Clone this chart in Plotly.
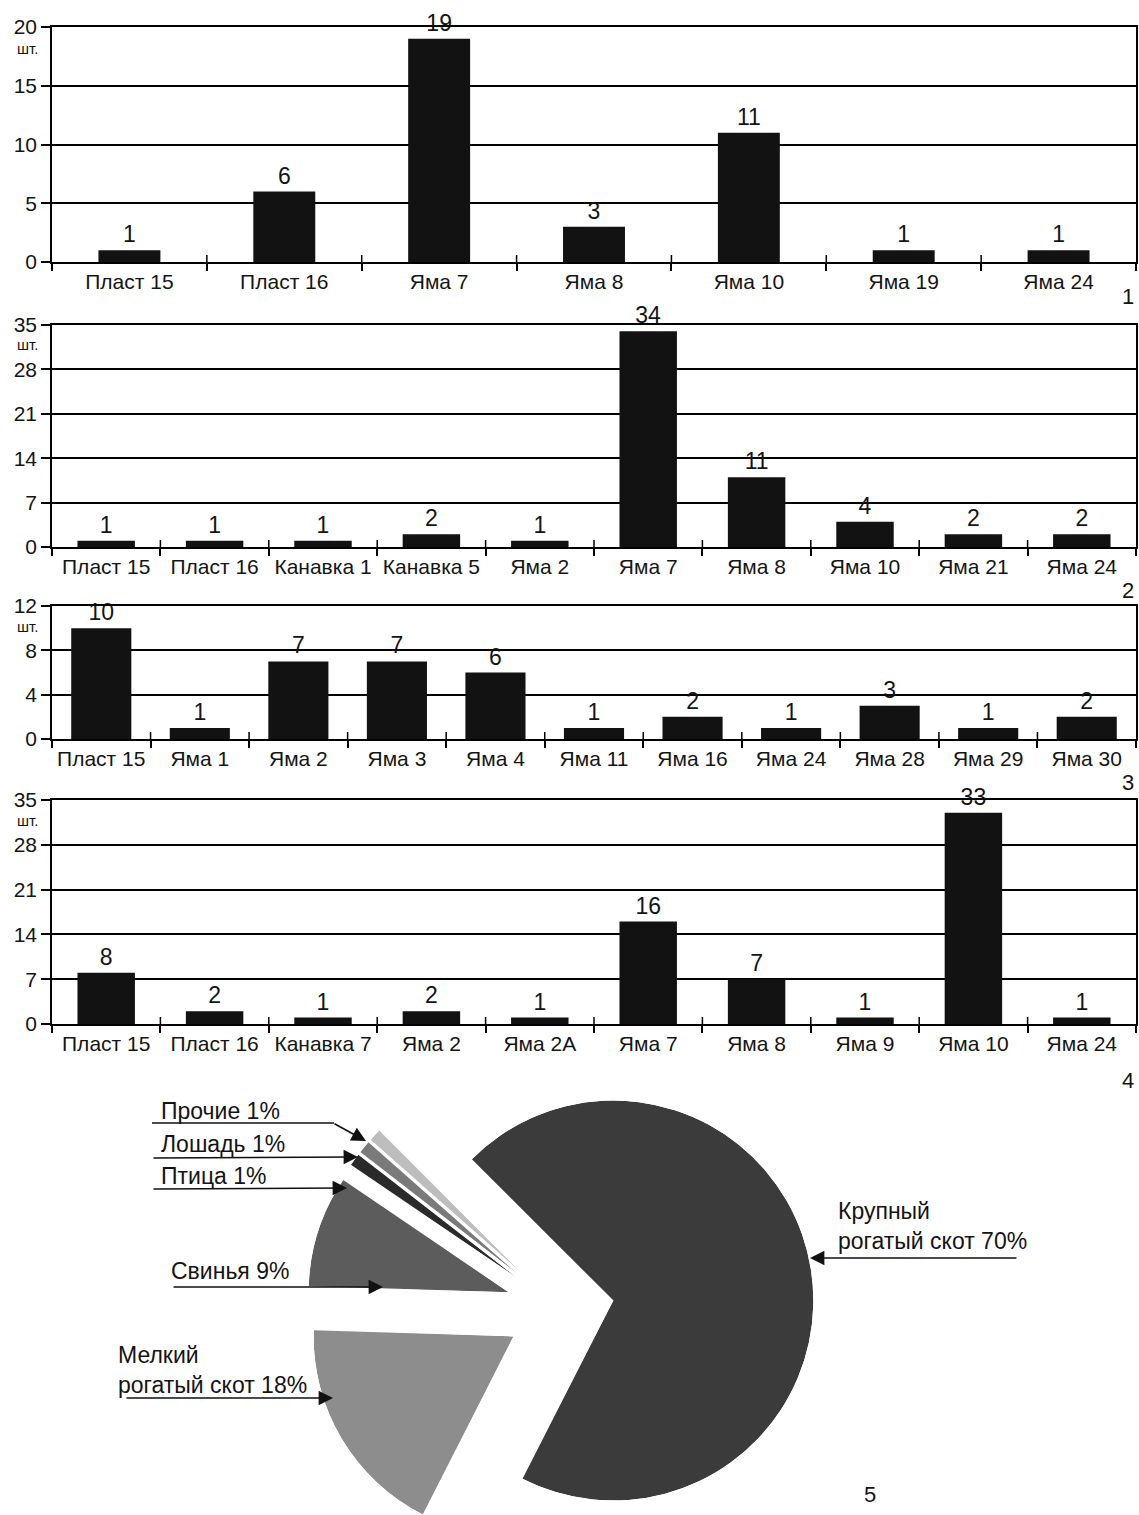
import math
import plotly.graph_objects as go

W, H = 1139, 1515

# ---------------- data ----------------
cats1 = ["Пласт 15", "Пласт 16", "Яма 7", "Яма 8", "Яма 10", "Яма 19", "Яма 24"]
vals1 = [1, 6, 19, 3, 11, 1, 1]

cats2 = ["Пласт 15", "Пласт 16", "Канавка 1", "Канавка 5", "Яма 2", "Яма 7",
         "Яма 8", "Яма 10", "Яма 21", "Яма 24"]
vals2 = [1, 1, 1, 2, 1, 34, 11, 4, 2, 2]

cats3 = ["Пласт 15", "Яма 1", "Яма 2", "Яма 3", "Яма 4", "Яма 11", "Яма 16",
         "Яма 24", "Яма 28", "Яма 29", "Яма 30"]
vals3 = [10, 1, 7, 7, 6, 1, 2, 1, 3, 1, 2]

cats4 = ["Пласт 15", "Пласт 16", "Канавка 7", "Яма 2", "Яма 2А", "Яма 7",
         "Яма 8", "Яма 9", "Яма 10", "Яма 24"]
vals4 = [8, 2, 1, 2, 1, 16, 7, 1, 33, 1]

pie_labels = ["Крупный<br>рогатый скот 70%", "Мелкий<br>рогатый скот 18%",
              "Свинья 9%", "Птица 1%", "Лошадь 1%", "Прочие 1%"]
pie_shares = [70, 18, 9, 1, 1, 1]

# ---------------- styles ----------------
FONT = "Liberation Sans, Arial, sans-serif"
TXT = "#141414"
BAR = "#121212"
pie_colors = ["#3b3b3b", "#8d8d8d", "#5c5c5c", "#2a2a2a", "#7a7a7a", "#bdbdbd"]


def fx(x):
    return x / W


def fy(y):
    return 1 - y / H


fig = go.Figure()

panels = [
    dict(cats=cats1, vals=vals1, top=27, bottom=262, rng=[0, 20], dt=5, w=0.40, num="1", numy=297, unit_y=48),
    dict(cats=cats2, vals=vals2, top=325, bottom=547, rng=[0, 35], dt=7, w=0.53, num="2", numy=590, unit_y=345),
    dict(cats=cats3, vals=vals3, top=606, bottom=739, rng=[0, 12], dt=4, w=0.61, num="3", numy=782, unit_y=627),
    dict(cats=cats4, vals=vals4, top=800, bottom=1024, rng=[0, 35], dt=7, w=0.53, num="4", numy=1080, unit_y=820),
]

annotations = []
shapes = []
layout_axes = {}

for i, p in enumerate(panels, start=1):
    xa = "x" if i == 1 else f"x{i}"
    ya = "y" if i == 1 else f"y{i}"
    fig.add_trace(go.Bar(
        x=p["cats"], y=p["vals"], xaxis=xa, yaxis=ya,
        marker=dict(color=BAR, line=dict(width=0)),
        width=p["w"],
        text=[str(v) for v in p["vals"]], textposition="outside",
        textfont=dict(size=23, color=TXT, family=FONT),
        constraintext="none", cliponaxis=False, showlegend=False,
        hoverinfo="x+y",
    ))
    xkey = "xaxis" if i == 1 else f"xaxis{i}"
    ykey = "yaxis" if i == 1 else f"yaxis{i}"
    layout_axes[xkey] = dict(
        domain=[fx(52), fx(1136)], anchor=ya, type="category",
        categoryorder="array", categoryarray=p["cats"],
        range=[-0.5, len(p["cats"]) - 0.5],
        showline=True, linecolor="black", linewidth=1.5, mirror=True,
        ticks="outside", tickson="boundaries", ticklen=7, tickwidth=1.5, tickcolor="black",
        showgrid=False, zeroline=False,
        tickfont=dict(size=21, color=TXT, family=FONT), automargin=False, fixedrange=True,
    )
    layout_axes[ykey] = dict(
        domain=[fy(p["bottom"]), fy(p["top"])], anchor=xa,
        range=p["rng"], dtick=p["dt"], tick0=0,
        showline=True, linecolor="black", linewidth=1.5, mirror=True,
        ticks="outside", ticklen=9, tickwidth=1.5, tickcolor="black",
        showgrid=True, gridcolor="black", gridwidth=1.5, zeroline=False,
        tickfont=dict(size=21, color=TXT, family=FONT), automargin=False, fixedrange=True,
    )
    # upper half of the crossing category-boundary ticks
    for k in range(1, len(p["cats"])):
        shapes.append(dict(type="line", xref=xa, yref=ya, x0=k - 0.5, x1=k - 0.5,
                           ysizemode="pixel", yanchor=0, y0=0, y1=7,
                           line=dict(color="black", width=1.5)))
    annotations.append(dict(
        text="шт.", x=fx(27), y=fy(p["unit_y"]), xref="paper", yref="paper",
        showarrow=False, font=dict(size=15, color=TXT, family=FONT),
        xanchor="center", yanchor="middle"))
    annotations.append(dict(
        text=p["num"], x=fx(1128), y=fy(p["numy"]), xref="paper", yref="paper",
        showarrow=False, font=dict(size=22, color=TXT, family=FONT),
        xanchor="center", yanchor="middle"))


# ---------------- exploded pie via sector-limited polar subplots ----------------
def sector_bbox(s0, s1):
    arc = s1 - s0
    a0 = s0 % 360
    a1 = a0 + arc
    ax0, ay0 = math.cos(math.radians(a0)), math.sin(math.radians(a0))
    ax1, ay1 = math.cos(math.radians(a1)), math.sin(math.radians(a1))
    if (a0 <= 90 and a1 >= 90) or (a0 > 90 and a1 >= 450):
        y1 = 1
    elif ay0 <= 0 and ay1 <= 0:
        y1 = 0
    else:
        y1 = max(ay0, ay1)
    if (a0 <= 180 and a1 >= 180) or (a0 > 180 and a1 >= 540):
        x0 = -1
    elif ax0 >= 0 and ax1 >= 0:
        x0 = 0
    else:
        x0 = min(ax0, ax1)
    if (a0 <= 270 and a1 >= 270) or (a0 > 270 and a1 >= 630):
        y0 = -1
    elif ay0 >= 0 and ay1 >= 0:
        y0 = 0
    else:
        y0 = min(ay0, ay1)
    if a1 >= 360:
        x1 = 1
    elif ax0 <= 0 and ax1 <= 0:
        x1 = 0
    else:
        x1 = max(ax0, ax1)
    return x0, y0, x1, y1


PIE_CX, PIE_CY = 560, 1309   # pie centre (px)
PIE_R = 200                  # radius (px)
PULL = 54                    # explosion distance (px)
START = 315                  # compass angle where first slice starts (clockwise)

total = sum(pie_shares)
cum = 0.0
for k, (lab, share, col) in enumerate(zip(pie_labels, pie_shares, pie_colors)):
    span = share / total * 360.0
    a0 = START + cum
    a1 = a0 + span
    cum += span
    bis = (a0 + a1) / 2
    dxs, dys = math.sin(math.radians(bis)), -math.cos(math.radians(bis))
    apx, apy = PIE_CX + PULL * dxs, PIE_CY + PULL * dys
    m0, m1 = 90 - a1 - 0.3, 90 - a0 + 0.3
    bx0, by0, bx1, by1 = sector_bbox(m0, m1)
    left, right = apx + PIE_R * bx0, apx + PIE_R * bx1
    top, bot = apy - PIE_R * by1, apy - PIE_R * by0
    dom_x = [max(0, fx(left)), min(1, fx(right))]
    dom_y = [max(0, fy(bot)), min(1, fy(top))]
    pname = f"polar{k + 1}" if k else "polar"
    fig.add_trace(go.Barpolar(
        r=[1], theta=[bis], width=[span], subplot=pname,
        marker=dict(color=col, line=dict(width=0)),
        name=lab.replace("<br>", " "), showlegend=False,
        hovertemplate=lab.replace("<br>", " ") + "<extra></extra>",
    ))
    layout_axes[pname] = dict(
        domain=dict(x=dom_x, y=dom_y), sector=[m0, m1], hole=0,
        bgcolor="rgba(0,0,0,0)",
        radialaxis=dict(range=[0, 1], visible=False),
        angularaxis=dict(rotation=90, direction="clockwise", visible=False),
    )

# pie labels
lab_pos = [
    (836, 1226), (116, 1370), (169, 1271), (159, 1176), (159, 1144), (159, 1111)
]
for lab, (lx, ly) in zip(pie_labels, lab_pos):
    annotations.append(dict(
        text=lab, x=fx(lx), y=fy(ly), xref="paper", yref="paper", showarrow=False,
        xanchor="left", yanchor="middle", align="left",
        font=dict(size=23, color=TXT, family=FONT)))

# leader arrows (tail px, tip px)
arrows = [
    ((1018, 1258), (810, 1258)),
    ((125, 1398), (333, 1398)),
    ((172, 1287), (383, 1287)),
    ((152, 1189), (347, 1188)),
    ((152, 1158), (358, 1157)),
    ((333, 1123), (366, 1141)),
]
for (tx, ty), (hx, hy) in arrows:
    annotations.append(dict(
        text="", x=fx(hx), y=fy(hy), xref="paper", yref="paper",
        ax=tx - hx, ay=ty - hy, axref="pixel", ayref="pixel",
        showarrow=True, arrowhead=2, arrowsize=1.8, arrowwidth=1.6,
        arrowcolor="#111", standoff=0, startstandoff=0, font=dict(size=1)))
shapes.append(dict(type="line", xref="paper", yref="paper",
                   x0=fx(152), x1=fx(334), y0=fy(1123), y1=fy(1123),
                   line=dict(color="#111", width=1.6)))

annotations.append(dict(
    text="5", x=fx(870), y=fy(1494), xref="paper", yref="paper", showarrow=False,
    font=dict(size=22, color=TXT, family=FONT), xanchor="center", yanchor="middle"))

fig.update_layout(
    width=W, height=H,
    margin=dict(l=0, r=0, t=0, b=0, autoexpand=False),
    paper_bgcolor="white", plot_bgcolor="white",
    font=dict(family=FONT, color=TXT),
    showlegend=False,
    annotations=annotations, shapes=shapes,
    **layout_axes,
)

fig.write_html(
    "out.html",
    config={"displayModeBar": False},
    post_script="document.body.style.margin='0';"
                "document.documentElement.style.overflow='hidden';"
                "document.body.style.overflow='hidden';",
)
